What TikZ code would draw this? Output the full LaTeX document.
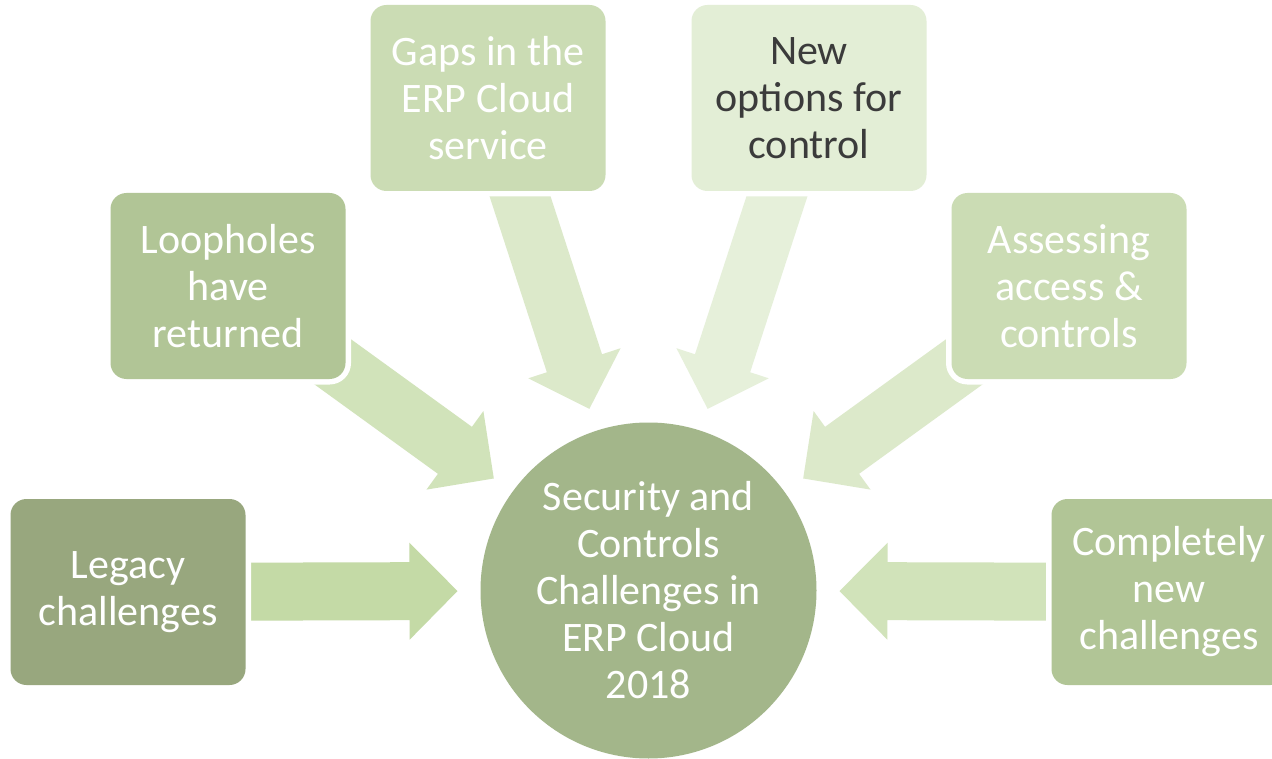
\documentclass[tikz,border=0pt]{standalone}
\usepackage{fontspec}
\setmainfont{Carlito}
\usetikzlibrary{calc,backgrounds}
\definecolor{boxA}{HTML}{98A77E}
\definecolor{boxB}{HTML}{B1C596}
\definecolor{boxC}{HTML}{CBDCB4}
\definecolor{boxD}{HTML}{E3EED6}
\definecolor{circ}{HTML}{A3B68A}
\definecolor{arrA}{HTML}{C4DAA6}
\definecolor{arrB}{HTML}{D1E3BA}
\definecolor{arrC}{HTML}{DCE9CA}
\definecolor{arrD}{HTML}{E6F0DA}
\definecolor{darktext}{HTML}{3B3B3B}
\newcommand\bigtext{\fontsize{42}{47}\selectfont}
\newcommand\blockarr[2]{%
  \coordinate (tip#1) at ($(c.center)!191pt!(#1.center)$);
  \coordinate (hb#1) at ($(tip#1)!48pt!(#1.center)$);
  \fill[#2] ($(#1.center)!29pt!90:(tip#1)$) -- ($(hb#1)!29pt!90:(tip#1)$)
    -- ($(hb#1)!48.5pt!90:(tip#1)$) -- (tip#1)
    -- ($(hb#1)!48.5pt!-90:(tip#1)$) -- ($(hb#1)!29pt!-90:(tip#1)$)
    -- ($(#1.center)!29pt!-90:(tip#1)$) -- cycle;}
\begin{document}
\begin{tikzpicture}[x=1pt,y=-1pt,
  box/.style={rectangle, rounded corners=16pt, minimum width=235pt, minimum height=186pt,
    inner sep=0pt, align=center, font=\bigtext, text=white,
    preaction={draw=white, line width=11pt}},
  hub/.style={circle, minimum size=336pt, inner sep=0pt, align=center, font=\bigtext, text=white}]
\useasboundingbox (0,0) rectangle (1272,759);
\node[hub, fill=circ] (c) at (648.5,590.5) {Security and\\Controls\\Challenges in\\ERP Cloud\\2018};
\node[box, fill=boxA] (lg) at (128,592) {Legacy\\challenges};
\node[box, fill=boxB] (lp) at (228,286) {Loopholes\\have\\returned};
\node[box, fill=boxC] (gp) at (488,98) {Gaps in the\\ERP Cloud\\service};
\node[box, fill=boxD, text=darktext] (no) at (809,98) {New\\options for\\control};
\node[box, fill=boxC] (as) at (1069,286) {Assessing\\access \&\\controls};
\node[box, fill=boxB] (cn) at (1169,592) {Completely\\new\\challenges};
\begin{scope}[on background layer]
\fill[white] (0,0) rectangle (1272,759);
\blockarr{lg}{arrA}
\blockarr{lp}{arrB}
\blockarr{gp}{arrC}
\blockarr{no}{arrD}
\blockarr{as}{arrC}
\blockarr{cn}{arrB}
\end{scope}
\end{tikzpicture}
\end{document}
